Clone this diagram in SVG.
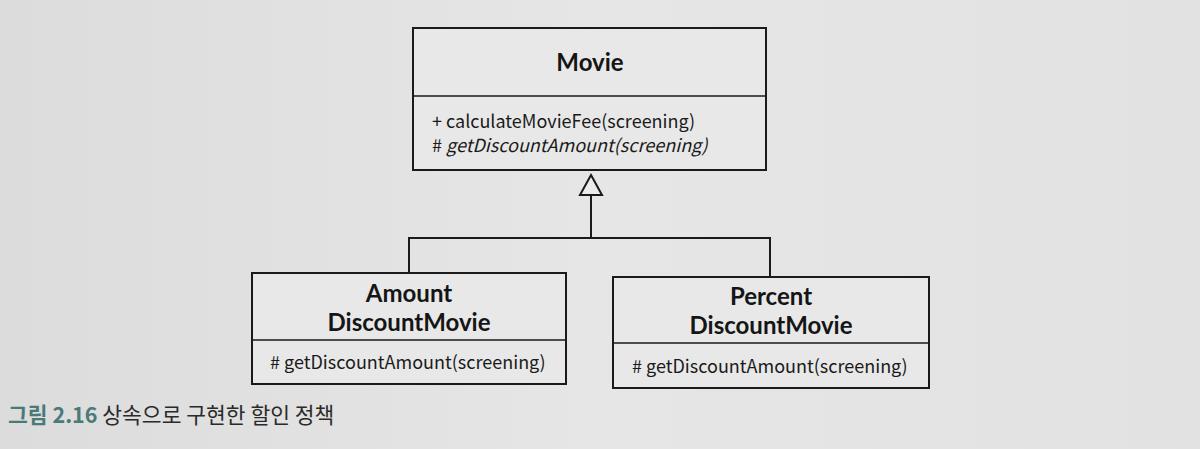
<svg xmlns="http://www.w3.org/2000/svg" width="1200" height="449" viewBox="0 0 1200 449">
<defs>
<linearGradient id="bg" x1="0" y1="0" x2="1" y2="0">
<stop offset="0" stop-color="#dcdcdc"/>
<stop offset="0.5" stop-color="#e6e6e6"/>
<stop offset="1" stop-color="#e2e2e2"/>
</linearGradient>
<style>
.box{fill:#e8e8e8;stroke:#1a1a1a;stroke-width:2}
.div{stroke:#1a1a1a;stroke-width:1.5}
.title{font-family:Lato,"Noto Sans",sans-serif;font-weight:bold;font-size:24px;fill:#151515;text-anchor:middle}
.m{font-family:"Noto Sans CJK KR","Noto Sans",sans-serif;font-size:18px;fill:#1a1a1a}
.ln{fill:none;stroke:#1a1a1a;stroke-width:2}
</style>
</defs>
<rect width="1200" height="449" fill="url(#bg)"/>
<g id="connectors">
<polyline class="ln" points="409,273 409,238 770,238 770,277"/>
<line class="ln" x1="591" y1="238" x2="591" y2="195"/>
<polygon points="591,175 602,195 580,195" fill="#ececec" stroke="#1a1a1a" stroke-width="2"/>
</g>
<g id="movie">
<rect class="box" x="413" y="28" width="353" height="142"/>
<line class="div" x1="413" y1="96" x2="766" y2="96"/>
<text class="title" x="590" y="71">Movie</text>
<text class="m" x="432" y="128">+ calculateMovieFee(screening)</text>
<text class="m" x="432" y="152"># <tspan font-style="italic">getDiscountAmount(screening)</tspan></text>
</g>
<g id="amount">
<rect class="box" x="252" y="273" width="314" height="111"/>
<line class="div" x1="252" y1="340" x2="566" y2="340"/>
<text class="title" x="409" y="302">Amount</text>
<text class="title" x="409" y="331">DiscountMovie</text>
<text class="m" x="270" y="369"># getDiscountAmount(screening)</text>
</g>
<g id="percent">
<rect class="box" x="613" y="277" width="316" height="111"/>
<line class="div" x1="613" y1="343" x2="929" y2="343"/>
<text class="title" x="771" y="305">Percent</text>
<text class="title" x="771" y="334">DiscountMovie</text>
<text class="m" x="632" y="373"># getDiscountAmount(screening)</text>
</g>
<g id="caption">
<text x="8" y="423" font-family="'Noto Sans CJK KR','Noto Sans',sans-serif" font-size="21.5"><tspan fill="#4a7a78" font-weight="bold">그림 2.16</tspan><tspan fill="#2a2a2a"> 상속으로 구현한 할인 정책</tspan></text>
</g>
</svg>
